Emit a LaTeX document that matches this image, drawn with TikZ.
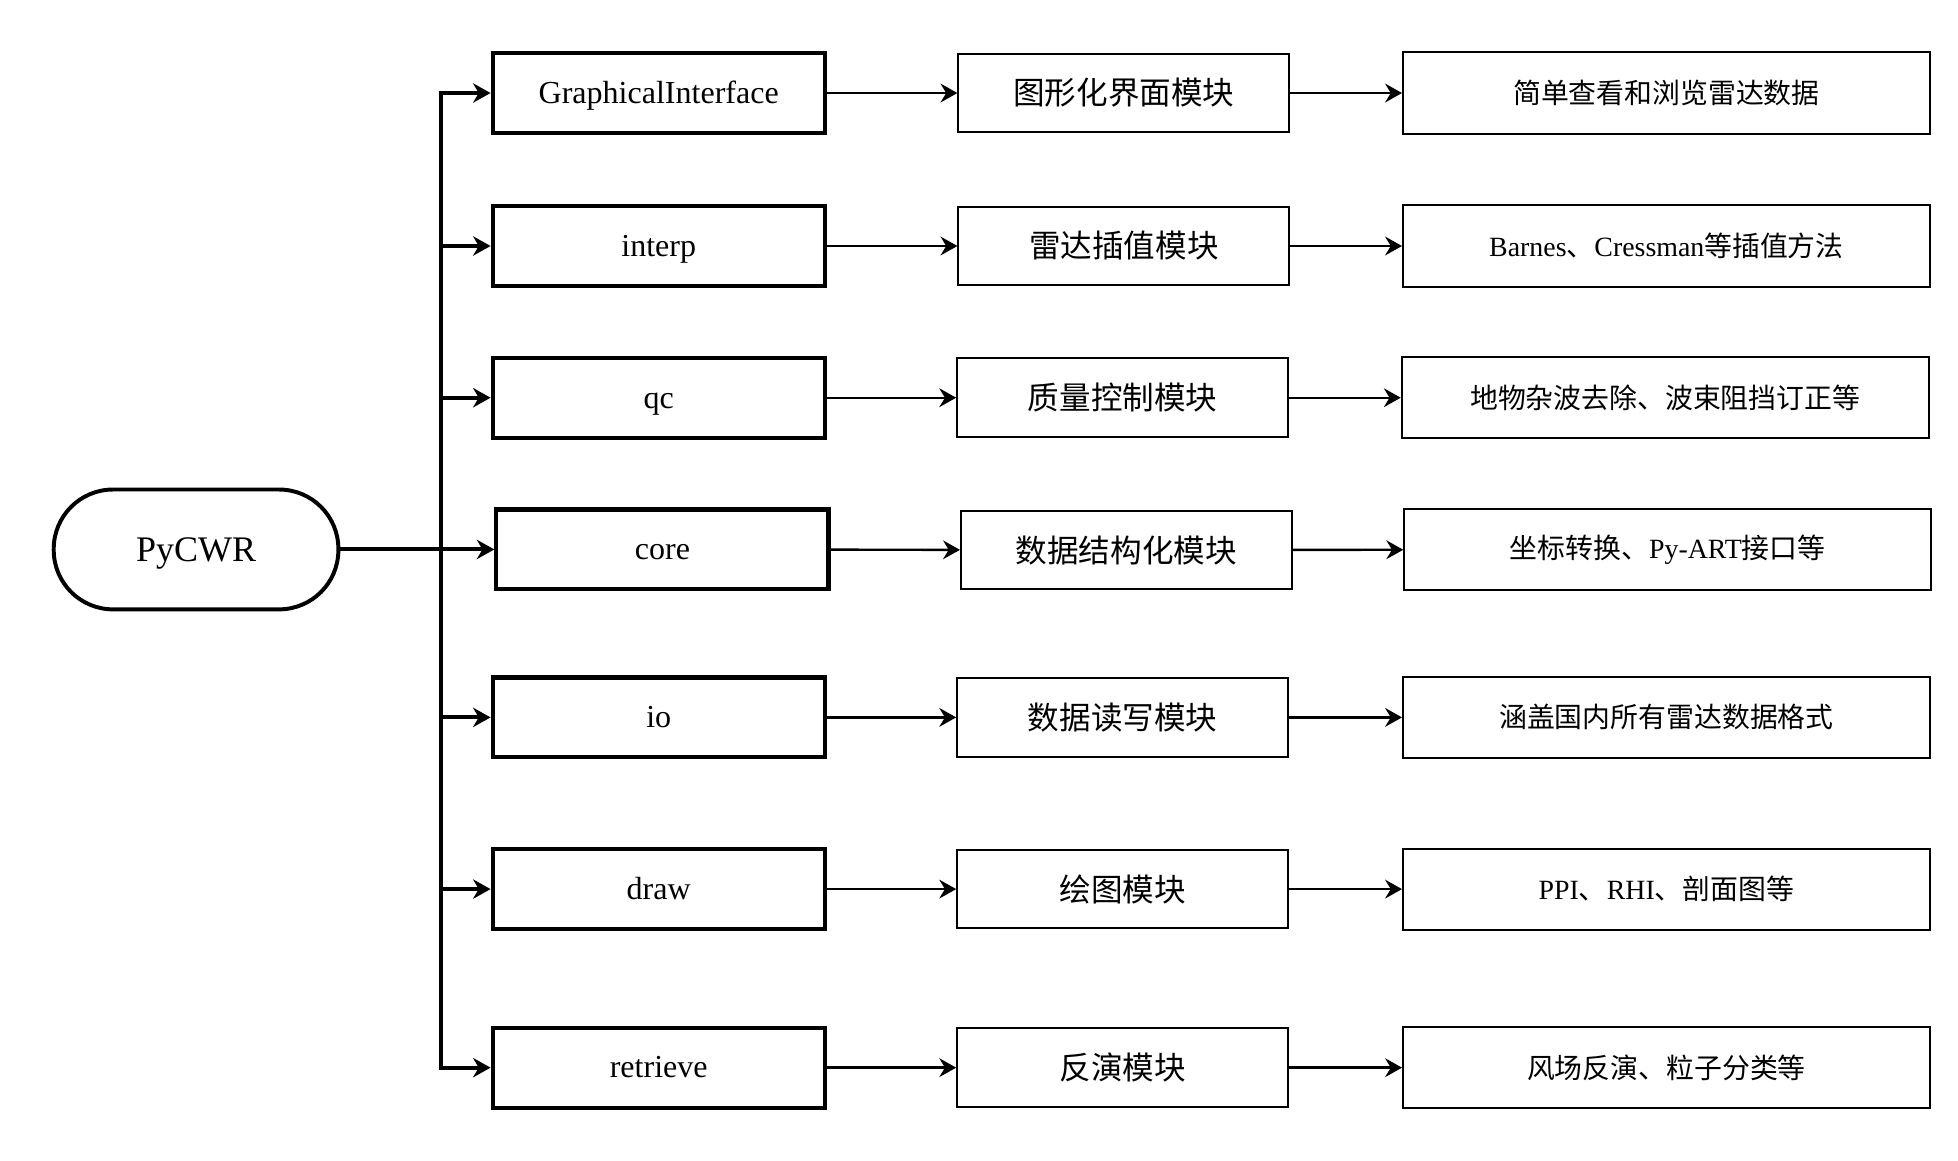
\documentclass[tikz,border=0pt]{standalone}
\usepackage{fontspec}
\setmainfont{Liberation Serif}
\newfontfamily\cjk{Noto Sans CJK SC}
\usetikzlibrary{arrows.meta}
\tikzset{
	root/.style={draw, line width=1.8pt, rounded corners=0.95cm, minimum width=4.56cm, minimum height=1.92cm, text height=10.6pt, text depth=0pt, font=\fontsize{16.4}{19}\selectfont},
	pkg/.style={draw, line width=1.9pt, minimum width=5.32cm, minimum height=1.28cm, text height=9.4pt, text depth=0pt, font=\fontsize{14.6}{17}\selectfont},
	mod/.style={draw, line width=0.9pt, minimum width=5.3cm, minimum height=1.26cm, font=\cjk\fontsize{14.4}{17}\selectfont},
	desc/.style={draw, line width=0.9pt, minimum width=8.44cm, minimum height=1.3cm, font=\fontsize{12.7}{15}\selectfont},
	bus/.style={line width=1.8pt, -{Stealth[length=2.8mm,width=3.1mm,inset=0.9mm]}},
	link/.style={line width=1.1pt, -{Stealth[length=2.7mm,width=3mm,inset=0.9mm]}}
}

\begin{document}
\begin{tikzpicture}[x=0.02cm, y=-0.02cm]
			%%%%% START %%%%%
			
			\useasboundingbox (0, 0) rectangle (1568, 929);
			
			\node[root] (pycwr) at (157, 440) {PyCWR};
			\coordinate (split) at (353, 440);
			
			\node[pkg] (gi) at (527.5, 74.5) {GraphicalInterface};
			\node[pkg] (interp) at (527.5, 197) {interp};
			\node[pkg] (qc) at (527.5, 318.5) {qc};
			\node[pkg] (core) at (530.5, 440) {core};
			\node[pkg] (io) at (527.5, 574.5) {io};
			\node[pkg] (drawing) at (527.5, 712) {draw};
			\node[pkg] (retrieve) at (527.5, 855) {retrieve};
			
			\node[mod] (gimod) at (900, 74.5) {图形化界面模块};
			\node[mod] (interpmod) at (900, 197) {雷达插值模块};
			\node[mod] (qcmod) at (899, 318.5) {质量控制模块};
			\node[mod] (coremod) at (902, 440.5) {数据结构化模块};
			\node[mod] (iomod) at (899, 574.5) {数据读写模块};
			\node[mod] (drawmod) at (899, 712) {绘图模块};
			\node[mod] (retrievemod) at (899, 855) {反演模块};
			
			\node[desc] (gidesc) at (1334.5, 74.5) {\cjk 简单查看和浏览雷达数据};
			\node[desc] (interpdesc) at (1334.5, 197) {Barnes{\cjk 、}Cressman{\cjk 等插值方法}};
			\node[desc] (qcdesc) at (1333.5, 318.5) {\cjk 地物杂波去除、波束阻挡订正等};
			\node[desc] (coredesc) at (1335.5, 440) {{\cjk 坐标转换、}Py-ART{\cjk 接口等}};
			\node[desc] (iodesc) at (1334.5, 574.5) {\cjk 涵盖国内所有雷达数据格式};
			\node[desc] (drawdesc) at (1334.5, 712) {PPI{\cjk 、}RHI{\cjk 、剖面图等}};
			\node[desc] (retrievedesc) at (1334.5, 855) {\cjk 风场反演、粒子分类等};
			
			% trunk and branches
			\draw[line width=1.8pt] (pycwr.east) -- (split);
			\draw[bus] (split) -- (core.west);
			\draw[bus] (split) |- (gi.west);
			\draw[bus] (split) |- (interp.west);
			\draw[bus] (split) |- (qc.west);
			\draw[bus] (split) |- (io.west);
			\draw[bus] (split) |- (drawing.west);
			\draw[bus] (split) |- (retrieve.west);
			
			\draw[link] (gi) -- (gimod);
			\draw[link] (interp) -- (interpmod);
			\draw[link] (qc) -- (qcmod);
			\draw[link] (core) -- (coremod);
			\draw[link] (io) -- (iomod);
			\draw[link] (drawing) -- (drawmod);
			\draw[link] (retrieve) -- (retrievemod);
			
			\draw[link] (gimod) -- (gidesc);
			\draw[link] (interpmod) -- (interpdesc);
			\draw[link] (qcmod) -- (qcdesc);
			\draw[link] (coremod) -- (coredesc);
			\draw[link] (iomod) -- (iodesc);
			\draw[link] (drawmod) -- (drawdesc);
			\draw[link] (retrievemod) -- (retrievedesc);
			
			%%%%% END %%%%%
\end{tikzpicture}
\end{document}
